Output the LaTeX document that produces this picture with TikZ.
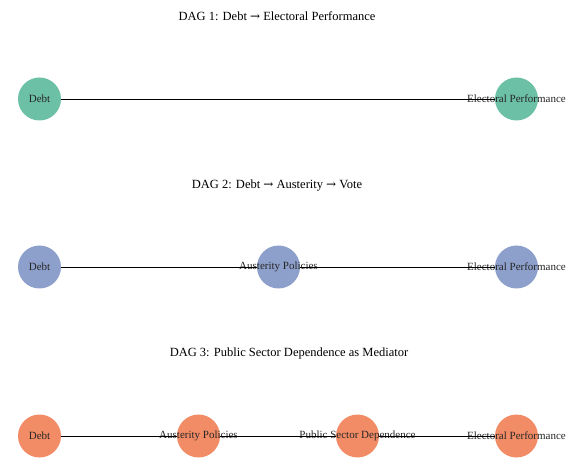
\documentclass[tikz,border=0pt]{standalone}
\usepackage{fontspec}
\setmainfont{Liberation Serif}
\newfontfamily\arrowfont{DejaVu Serif}
\definecolor{cgreen}{HTML}{6CC0A5}
\definecolor{cblue}{HTML}{8DA0CB}
\definecolor{corange}{HTML}{F28C66}
\begin{document}
\begin{tikzpicture}[x=1pt,y=-1pt,
  dagnode/.style={circle, draw=none, minimum size=43pt, inner sep=0pt},
  lbl/.style={font=\fontsize{11}{12}\selectfont, text=black!85},
  ttl/.style={font=\fontsize{12.5}{14}\selectfont, text=black},
  edge/.style={draw=black, line width=0.9pt}]
\useasboundingbox (0,0) rectangle (579,465);
\newcommand{\ar}{{\arrowfont\fontsize{12}{13}\selectfont →}}
% DAG 1
\node[ttl] (t1) at (277,16) {DAG 1: Debt \ar{} Electoral Performance};
\node[dagnode, fill=cgreen, label={[lbl]center:Debt}] (a1) at (39.5,99) {};
\node[dagnode, fill=cgreen, label={[lbl]center:Electoral Performance}] (b1) at (516.5,99) {};
\draw[edge] (a1) -- (b1);
% DAG 2
\node[ttl] (t2) at (277,186) {DAG 2: Debt \ar{} Austerity \ar{} Vote};
\node[dagnode, fill=cblue, label={[lbl]center:Debt}] (a2) at (39.5,267) {};
\node[dagnode, fill=cblue, label={[lbl]center:Austerity Policies}] (b2) at (278.5,267) {};
\node[dagnode, fill=cblue, label={[lbl]center:Electoral Performance}] (c2) at (516.5,267) {};
\draw[edge] (a2) -- (b2);
\draw[edge] (b2) -- (c2);
% DAG 3
\node[ttl] (t3) at (289,353) {DAG 3: Public Sector Dependence as Mediator};
\node[dagnode, fill=corange, label={[lbl]center:Debt}] (a3) at (39.5,436) {};
\node[dagnode, fill=corange, label={[lbl]center:Austerity Policies}] (b3) at (198.5,436) {};
\node[dagnode, fill=corange, label={[lbl]center:Public Sector Dependence}] (c3) at (357.5,436) {};
\node[dagnode, fill=corange, label={[lbl]center:Electoral Performance}] (d3) at (516.5,436) {};
\draw[edge] (a3) -- (b3);
\draw[edge] (b3) -- (c3);
\draw[edge] (c3) -- (d3);
\end{tikzpicture}
\end{document}
